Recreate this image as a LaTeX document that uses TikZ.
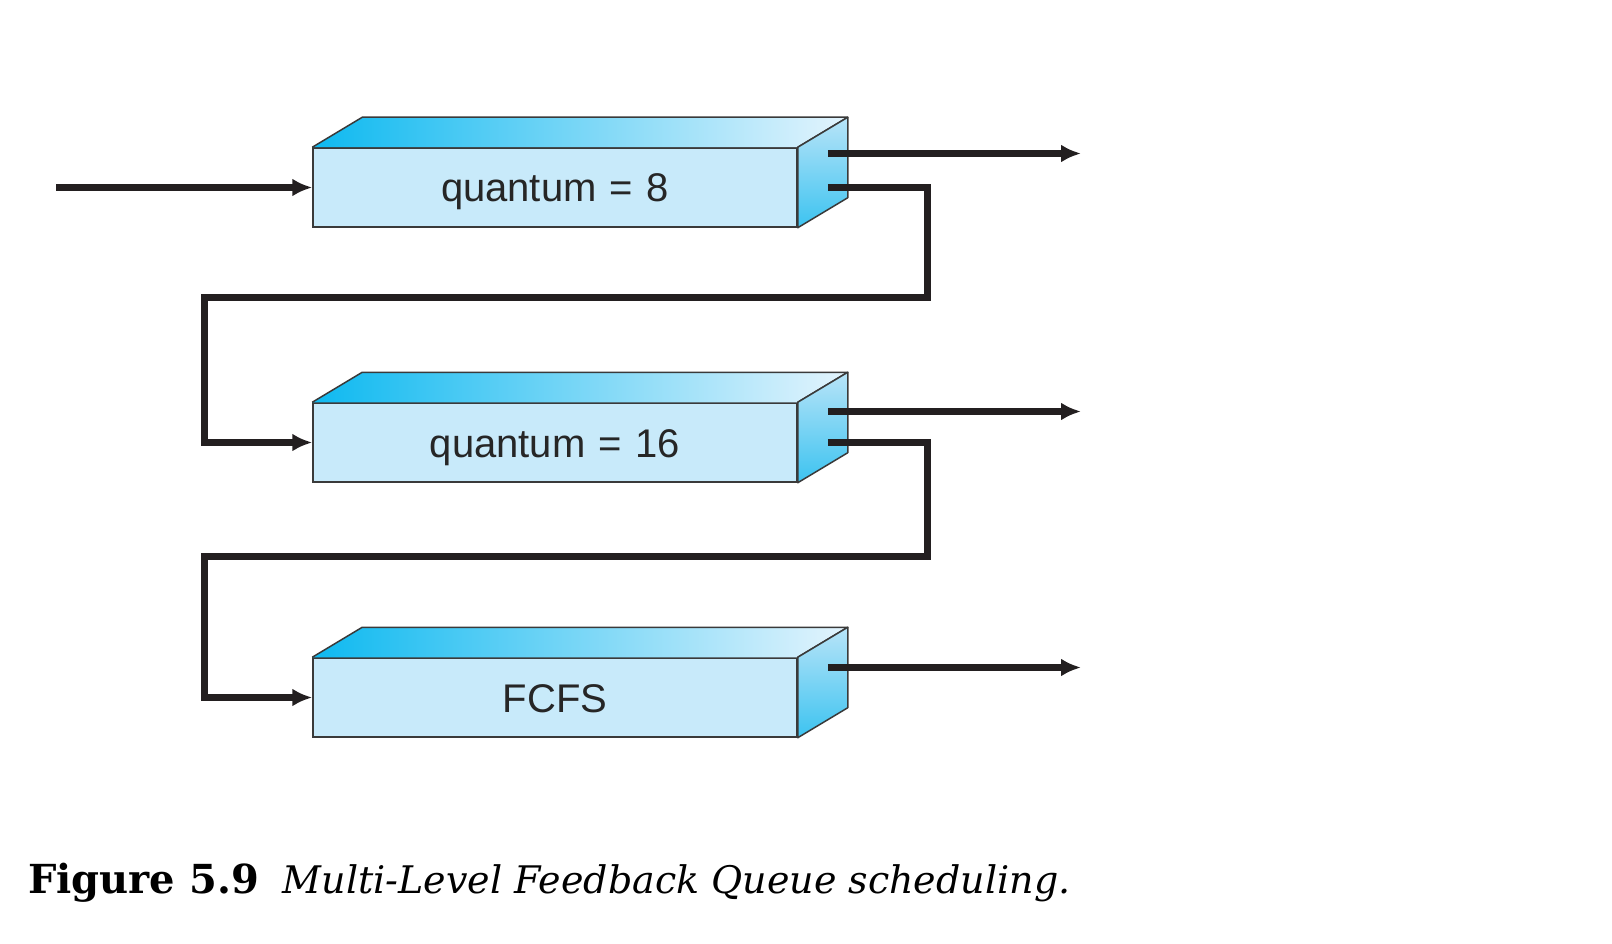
\documentclass[tikz,border=0pt]{standalone}
\usepackage{fontspec}
\setmainfont{DejaVu Serif}
\newfontfamily\boxfont{Liberation Sans}
\usetikzlibrary{arrows.meta}

\definecolor{frontblue}{RGB}{200,234,250}
\definecolor{topdark}{RGB}{14,185,240}
\definecolor{toplight}{RGB}{228,244,253}
\definecolor{sidelight}{RGB}{184,228,248}
\definecolor{sidedark}{RGB}{60,195,240}
\definecolor{edgegray}{RGB}{58,58,58}
\definecolor{inkblack}{RGB}{35,31,32}

\tikzset{
  queuebox/.style={draw=edgegray, line width=1.5pt, fill=frontblue,
    minimum width=484pt, minimum height=79pt, inner sep=0pt,
    text height=29pt, text depth=0pt,
    font=\boxfont\fontsize{40pt}{44pt}\selectfont, text=black!85},
  flow/.style={draw=inkblack, line width=7pt,
    -{Latex[length=20pt,width=18pt]}}
}

\begin{document}
\begin{tikzpicture}[x=1pt,y=-1pt]
\useasboundingbox (0,0) rectangle (1612,944);

% the three queues
\node[queuebox] (q8) at (555,187.5) {quantum\,\,=\,\,8};
\node[queuebox] (q16) at (555,442.5) {quantum\,\,=\,\,16};
\node[queuebox] (fcfs) at (555,697.5) {FCFS};

% top and side faces
\foreach \q in {q8,q16,fcfs} {
  \shade[left color=topdark, right color=toplight]
    (\q.north west) -- ([shift={(50,-30)}]\q.north west)
    -- ([shift={(50,-30)}]\q.north east) -- (\q.north east) -- cycle;
  \draw[edgegray, line width=1.5pt, line join=round]
    (\q.north west) -- ([shift={(50,-30)}]\q.north west)
    -- ([shift={(50,-30)}]\q.north east) -- (\q.north east);
  \shade[top color=sidelight, bottom color=sidedark]
    (\q.north east) -- ([shift={(50,-30)}]\q.north east)
    -- ([shift={(50,-30)}]\q.south east) -- (\q.south east) -- cycle;
  \draw[edgegray, line width=1.5pt, line join=round]
    (\q.north east) -- ([shift={(50,-30)}]\q.north east)
    -- ([shift={(50,-30)}]\q.south east) -- (\q.south east) -- cycle;
}

% entry and exits
\coordinate (entry) at (56,187.5);
\coordinate (out8) at (1081,153.5);
\coordinate (out16) at (1081,411.5);
\coordinate (outfcfs) at (1081,667.5);
\draw[flow] (entry) -- (q8.west);
\draw[flow] ([xshift=30pt]out8 -| q8.east) -- (out8);
\draw[flow] ([xshift=30pt]out16 -| q16.east) -- (out16);
\draw[flow] ([xshift=30pt]outfcfs -| fcfs.east) -- (outfcfs);

% feedback to the lower queues
\coordinate (r8) at (927,297);
\coordinate (l8) at (204,297);
\coordinate (r16) at (927,556.5);
\coordinate (l16) at (204,556.5);
\draw[flow] ([xshift=30pt]q8.east) -| (r8) -- (l8) |- (q16.west);
\draw[flow] ([xshift=30pt]q16.east) -| (r16) -- (l16) |- (fcfs.west);

% caption
\node[anchor=base west, inner sep=0pt, font=\fontsize{38pt}{44pt}\selectfont] (caption) at (28,893)
  {{\fontsize{40pt}{44pt}\selectfont\textbf{Figure 5.9}}\hspace{24pt}\textit{Multi-Level Feedback Queue scheduling.}};
\end{tikzpicture}
\end{document}
